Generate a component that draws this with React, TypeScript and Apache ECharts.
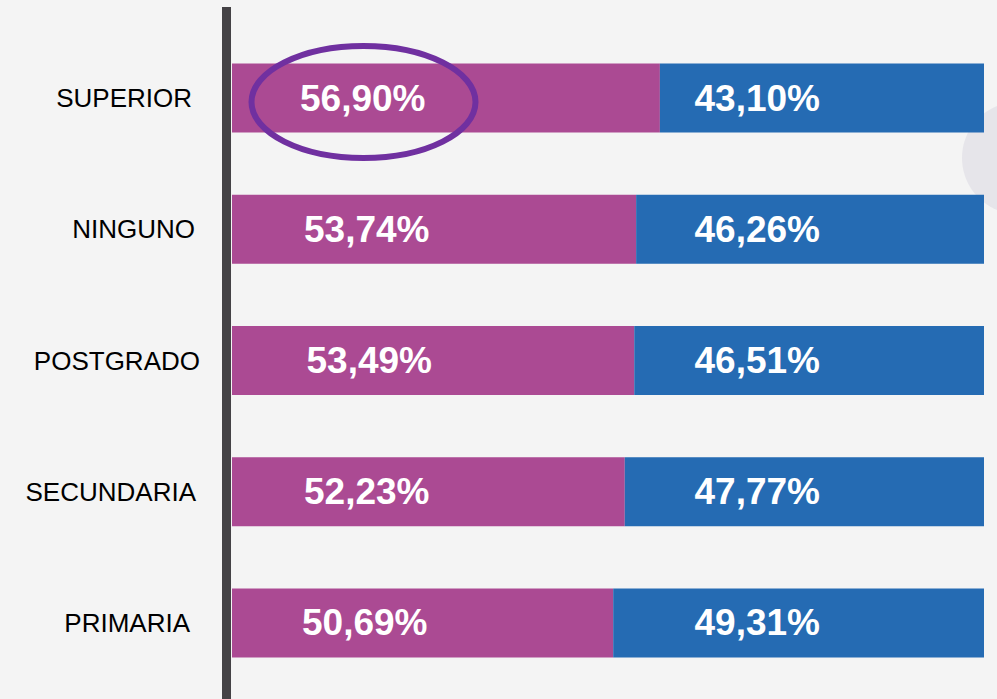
import React, { useEffect, useRef } from "react";
import * as echarts from "echarts";

const categories = ["SUPERIOR", "NINGUNO", "POSTGRADO", "SECUNDARIA", "PRIMARIA"];
const mujeresValues = [56.9, 53.74, 53.49, 52.23, 50.69];
const hombresValues = [43.1, 46.26, 46.51, 47.77, 49.31];

// layout tweaks (pixel positions, not data)
const pinkLabelDistance = [68, 72, 74.5, 72, 70];
const categoryLabelPadRight = [8, 5, 0, 4, 10];

const PINK = "#AB4A93";
const BLUE = "#256BB3";
const fmt = (v: number) => v.toFixed(2).replace(".", ",") + "%";

export default function App() {
  const ref = useRef<HTMLDivElement>(null);
  useEffect(() => {
    if (!ref.current) return;
    const chart = echarts.init(ref.current, null, { renderer: "svg" });
    const labelStyle = {
      show: true,
      color: "#FFFFFF",
      fontSize: 37,
      fontWeight: "bold" as const,
      fontFamily: "Liberation Sans, Arial, sans-serif",
      formatter: (p: any) => fmt(p.value),
    };
    chart.setOption({
      animation: false,
      backgroundColor: "#F4F4F4",
      grid: [
        { left: 232, right: 13, top: 32.4, bottom: 10.4 },
        { left: 226.5, right: 13, top: 7, bottom: 0 },
      ],
      xAxis: [
        { type: "value", gridIndex: 0, min: 0, max: 100, show: false },
        { type: "value", gridIndex: 1, min: 0, max: 1, show: false },
      ],
      yAxis: [
        {
          type: "category",
          gridIndex: 0,
          data: categories.map((c, i) => ({
            value: c,
            textStyle: { padding: [0, categoryLabelPadRight[i], 0, 0] },
          })),
          inverse: true,
          axisLine: { show: false },
          axisTick: { show: false },
          axisLabel: {
            margin: 32,
            color: "#000000",
            fontSize: 26,
            fontFamily: "Liberation Sans, Arial, sans-serif",
          },
        },
        {
          type: "value",
          gridIndex: 1,
          min: 0,
          max: 1,
          axisLine: {
            show: true,
            lineStyle: { color: "#444245", width: 9, cap: "butt" },
          },
          axisTick: { show: false },
          axisLabel: { show: false },
          splitLine: { show: false },
        },
      ],
      series: [
        {
          type: "bar",
          stack: "total",
          data: mujeresValues.map((v, i) => ({
            value: v,
            label: { distance: pinkLabelDistance[i] },
          })),
          barWidth: 69,
          itemStyle: { color: PINK },
          label: { ...labelStyle, position: "insideLeft", distance: 70 },
        },
        {
          type: "bar",
          stack: "total",
          data: hombresValues,
          barWidth: 69,
          itemStyle: { color: BLUE },
          label: { ...labelStyle, position: "insideRight", distance: 164 },
        },
      ],
      graphic: [
        {
          type: "ellipse",
          z: -1,
          silent: true,
          shape: { cx: 1018, cy: 158, rx: 56, ry: 56 },
          style: { fill: "#E6E5EA" },
        },
        {
          type: "ellipse",
          z: 100,
          silent: true,
          shape: { cx: 363.5, cy: 102, rx: 112, ry: 56 },
          style: { fill: "none", stroke: "#7030A0", lineWidth: 6 },
        },
      ],
    });
    return () => chart.dispose();
  }, []);
  return (
    <div
      ref={ref}
      style={{ position: "fixed", left: 0, top: 0, width: 997, height: 699 }}
    />
  );
}
